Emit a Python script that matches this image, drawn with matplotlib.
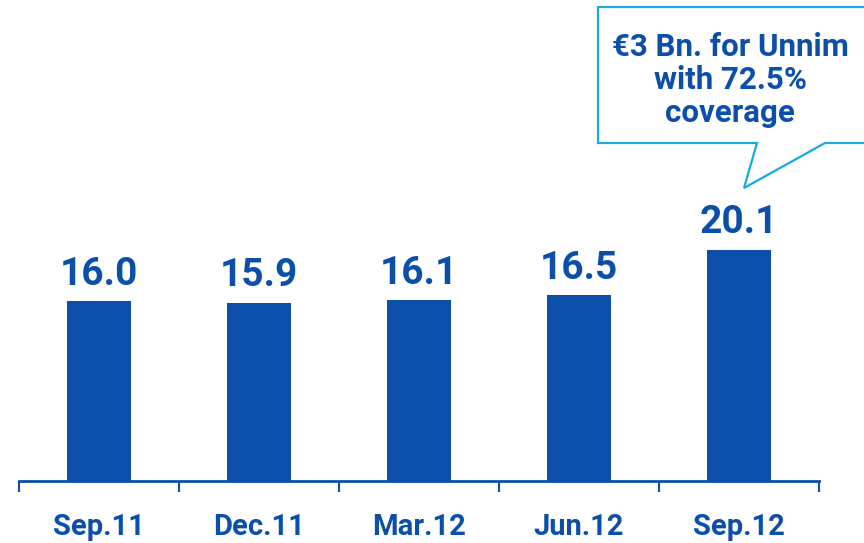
import matplotlib.pyplot as plt
from matplotlib.patches import Polygon

plt.rcParams['font.family'] = ['Roboto', 'DejaVu Sans']

periods = ['Sep.11', 'Dec.11', 'Mar.12', 'Jun.12', 'Sep.12']
values = [16.0, 15.9, 16.1, 16.5, 20.1]
value_labels = ['16.0', '15.9', '16.1', '16.5', '20.1']
callout = '€3 Bn. for Unnim\nwith 72.5%\ncoverage'

blue = '#0b4fab'
light = '#1aa9e1'

W, H = 864, 543
fig = plt.figure(figsize=(W / 100, H / 100), dpi=100)
ax = fig.add_axes([19 / W, 1 - 481 / H, 800 / W, 481 / H])

x = range(len(periods))
ax.bar(x, values, width=0.4, color=blue)
for i, v in enumerate(values):
    ax.annotate(value_labels[i], (i, v), xytext=(0, 6), textcoords='offset points',
                ha='center', va='bottom', fontsize=28, fontweight='bold', color=blue)

ax.set_xlim(-0.5, 4.5)
ax.set_ylim(1.75, 1.75 + 481 / 12.6)
ax.set_yticks([])
ax.set_xticks([i - 0.5 for i in range(len(periods) + 1)])
ax.set_xticklabels([])
ax.set_xticks(list(x), minor=True)
ax.set_xticklabels(periods, minor=True)
ax.tick_params(axis='x', which='major', length=8, width=1.5, color=blue, direction='out')
ax.tick_params(axis='x', which='minor', length=0, pad=23, labelsize=21, labelcolor=blue)
for lbl in ax.get_xticklabels(minor=True):
    lbl.set_fontweight('bold')
for s in ['top', 'right', 'left']:
    ax.spines[s].set_visible(False)
ax.spines['bottom'].set_color(blue)
ax.spines['bottom'].set_linewidth(2)

# speech bubble
pts = [(598, 7), (870, 7), (870, 143), (825, 143), (744, 188), (757, 143), (598, 143)]
bubble = Polygon([(px / W, 1 - py / H) for px, py in pts], closed=True,
                 transform=fig.transFigure, facecolor='white', edgecolor=light, linewidth=1.6)
fig.patches.append(bubble)
fig.text(730 / W, 1 - 80 / H, callout, ha='center', va='center', fontsize=22.5,
         fontweight='bold', color=blue, linespacing=1.12)

fig.savefig('out.png', dpi=100)
